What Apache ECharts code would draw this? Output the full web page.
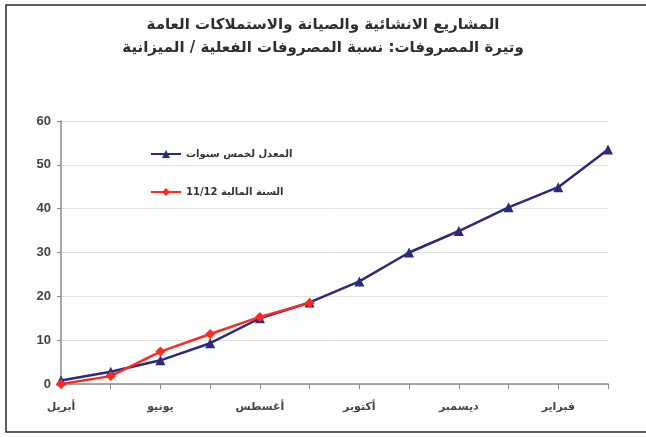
<!DOCTYPE html>
<html>
<head>
<meta charset="utf-8">
<script src="https://cdn.jsdelivr.net/npm/echarts@6/dist/echarts.min.js"></script>
<style>
  html, body { margin: 0; padding: 0; background: #fff; }
  #chart { width: 646px; height: 437px; }
</style>
</head>
<body>
<div id="chart"></div>
<script>
// الأشهر (السنة المالية تبدأ في أبريل)
const months = ['أبريل', 'مايو', 'يونيو', 'يوليو', 'أغسطس', 'سبتمبر', 'أكتوبر', 'نوفمبر', 'ديسمبر', 'يناير', 'فبراير', 'مارس']
const avgFiveYears = [0.8, 2.8, 5.4, 9.3, 15.0, 18.6, 23.4, 30.0, 34.9, 40.3, 44.9, 53.5]
const fiscalYear = [0.0, 1.8, 7.4, 11.4, 15.3, 18.5]
const seriesNames = ['المعدل لخمس سنوات', 'السنة المالية 11/12']
const titleLines = ['المشاريع الانشائية والصيانة والاستملاكات العامة', 'وتيرة المصروفات: نسبة المصروفات الفعلية / الميزانية']

const arFont = '"DejaVu Sans", sans-serif'
const chart = echarts.init(document.getElementById('chart'))

const option = {
  animation: false,
  title: {
    text: titleLines.join('\n'),
    left: 'center',
    top: 9,
    textStyle: {
      fontFamily: arFont,
      fontSize: 15,
      fontWeight: 'bold',
      color: '#2e2e2e',
      lineHeight: 23
    }
  },
  graphic: [
    {
      type: 'rect',
      shape: { x: 6, y: 5, width: 660, height: 427 },
      style: { fill: 'none', stroke: '#2a2a2a', lineWidth: 1.5 },
      silent: true
    }
  ],
  legend: {
    left: 145,
    top: 144,
    orient: 'vertical',
    itemGap: 28,
    itemWidth: 30,
    itemHeight: 10,
    textStyle: {
      fontFamily: arFont,
      fontSize: 10,
      fontWeight: 'bold',
      color: '#333'
    },
    data: seriesNames
  },
  grid: {
    left: 61,
    right: 38,
    top: 121,
    bottom: 53
  },
  xAxis: {
    type: 'category',
    boundaryGap: false,
    data: months,
    axisLine: { lineStyle: { color: '#8a8a8a', width: 1.5 } },
    axisTick: { interval: 0, length: 5, lineStyle: { color: '#8a8a8a' } },
    axisLabel: {
      interval: 1,
      margin: 18,
      fontFamily: arFont,
      fontSize: 11,
      fontWeight: 'bold',
      color: '#444'
    }
  },
  yAxis: {
    type: 'value',
    min: 0,
    max: 60,
    interval: 10,
    axisLine: { show: true, lineStyle: { color: '#8a8a8a', width: 1.5 } },
    axisTick: { show: true, length: 4, lineStyle: { color: '#8a8a8a' } },
    axisLabel: {
      margin: 10,
      fontFamily: 'Arial, "Liberation Sans", sans-serif',
      fontSize: 13,
      fontWeight: 'bold',
      color: '#444'
    },
    splitLine: { lineStyle: { color: '#e2e2e2' } }
  },
  series: [
    {
      name: seriesNames[0],
      type: 'line',
      data: avgFiveYears,
      symbol: 'triangle',
      symbolSize: 10,
      lineStyle: { color: '#2b2a7c', width: 2.5 },
      itemStyle: { color: '#2b2a7c' }
    },
    {
      name: seriesNames[1],
      type: 'line',
      data: fiscalYear,
      symbol: 'diamond',
      symbolSize: 10,
      lineStyle: { color: '#ff2a1f', width: 2.5 },
      itemStyle: { color: '#ff2a1f' }
    }
  ]
}

chart.setOption(option)
</script>
</body>
</html>
